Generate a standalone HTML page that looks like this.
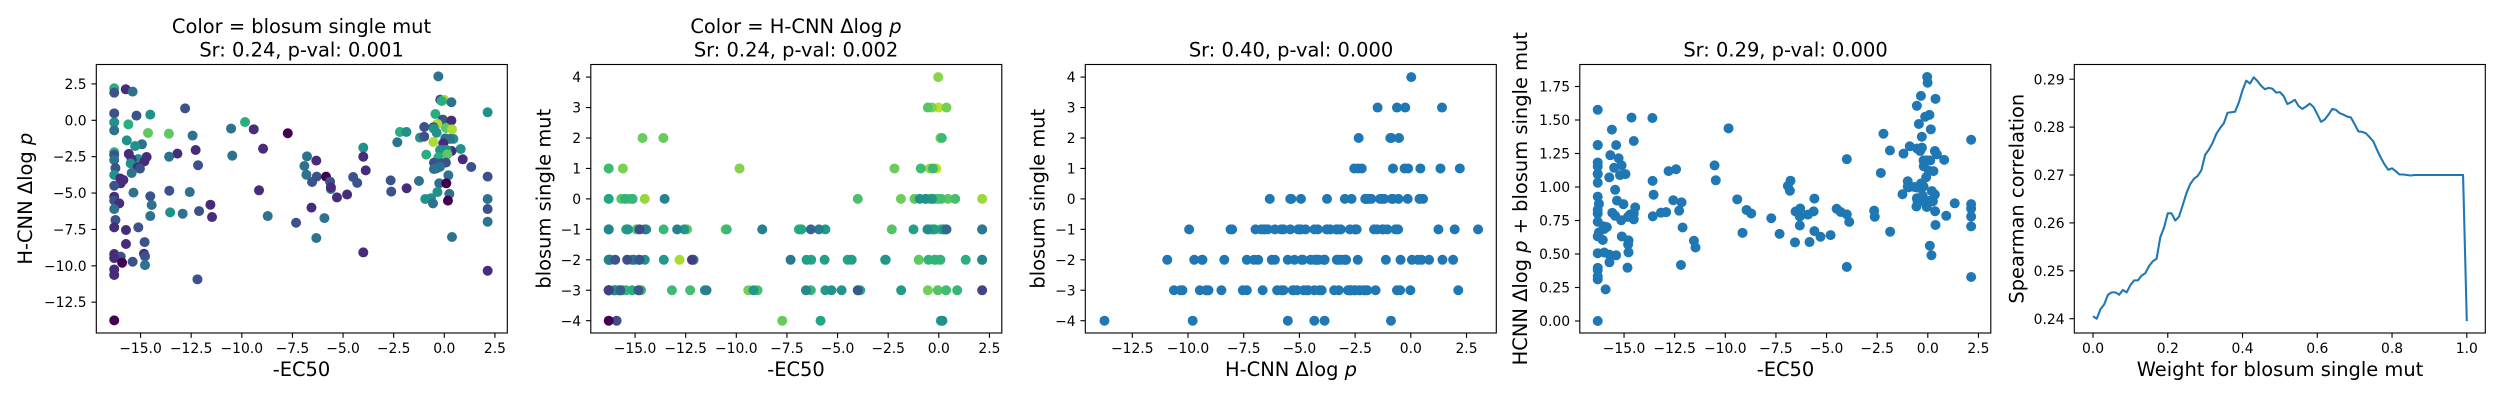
<!DOCTYPE html>
<html>
<head>
<meta charset="utf-8">
<title>Scatter panels</title>
<style>
html,body{margin:0;padding:0;background:#fff;width:2500px;height:400px;overflow:hidden}
svg{display:block}
text{font-family:"DejaVu Sans","Liberation Sans",sans-serif;fill:#000}
.title,.axlabel{font-size:19.44px}
.tick{font-size:13.89px}
.it{font-style:italic}
</style>
</head>
<body>
<svg id="fig" width="2500" height="400" viewBox="0 0 2500 400" xmlns="http://www.w3.org/2000/svg">
<rect width="2500" height="400" fill="#fff"/>
<g id="p1"></g>
<g id="p2"></g>
<g id="p3"></g>
<g id="p4"></g>
<g id="p5"></g>

<text class="title" x="301.5" y="33" text-anchor="middle">Color = blosum single mut</text>
<text class="title" x="301.5" y="56.5" text-anchor="middle">Sr: 0.24, p-val: 0.001</text>
<text class="axlabel" x="301.5" y="376" text-anchor="middle">-EC50</text>
<text class="axlabel" transform="translate(32,198.7) rotate(-90)" text-anchor="middle">H-CNN Δlog<tspan class="it"> p</tspan></text>

<text class="title" x="796" y="33" text-anchor="middle">Color = H-CNN Δlog<tspan class="it"> p</tspan></text>
<text class="title" x="796" y="56.5" text-anchor="middle">Sr: 0.24, p-val: 0.002</text>
<text class="axlabel" x="796" y="376" text-anchor="middle">-EC50</text>
<text class="axlabel" transform="translate(550.7,198.7) rotate(-90)" text-anchor="middle">blosum single mut</text>

<text class="title" x="1291" y="56.5" text-anchor="middle">Sr: 0.40, p-val: 0.000</text>
<text class="axlabel" x="1291" y="376" text-anchor="middle">H-CNN Δlog<tspan class="it"> p</tspan></text>
<text class="axlabel" transform="translate(1044.5,198.7) rotate(-90)" text-anchor="middle">blosum single mut</text>

<text class="title" x="1785.5" y="56.5" text-anchor="middle">Sr: 0.29, p-val: 0.000</text>
<text class="axlabel" x="1785.5" y="376" text-anchor="middle">-EC50</text>
<text class="axlabel" transform="translate(1527,198.7) rotate(-90)" text-anchor="middle">HCNN Δlog<tspan class="it"> p</tspan> + blosum single mut</text>

<text class="axlabel" x="2280" y="376" text-anchor="middle">Weight for blosum single mut</text>
<text class="axlabel" transform="translate(2023.5,198.7) rotate(-90)" text-anchor="middle">Spearman correlation</text>
</svg>

<script>
// Measured per-variant values, same order in all three arrays
const ec50 = [
-16.3,-15.73,-15.39,-16.3,-16.3,-15.2,-14.52,-12.8,-16.3,-15.6,
-16.3,-14.63,-13.6,-12.43,-10.53,-9.84,-9.41,-7.73,-15.68,-14.93,
-15.27,-8.95,-12.28,-16.3,-16.3,-15.58,-13.18,-13.59,-10.47,-6.78,
-14.7,-15.12,-15.44,-16.3,-6.32,-14.81,-15.49,-12.16,-6.91,-15.14,
-15.03,-16.24,-15.44,-16.3,-6.81,-6.3,-5.84,-16.0,-15.85,-15.98,
-6.53,-5.64,-5.6,-16.3,-9.15,-13.58,-12.57,-15.35,-16.3,-14.52,
-16.3,-16.05,-14.45,-11.55,-6.56,-16.3,-14.52,-13.54,-12.92,-12.11,
-11.47,-8.72,-5.92,-16.24,-7.32,-16.3,-15.11,-15.72,-6.32,-14.8,
-15.72,-16.3,-14.83,-14.78,-15.98,-16.3,-15.39,-15.91,-14.78,-16.3,
-16.3,-12.19,-16.3,-0.295,-0.2,-0.01,-0.13,0.35,-0.44,2.14,
-0.03,-0.08,0.35,-0.34,-0.99,-0.54,0.08,0.38,-0.53,-0.38,
-2.19,-1.87,-1.2,-0.99,0.05,0.45,0.28,-2.32,-0.54,-0.05,
-4.0,0.81,0.36,-0.05,-0.21,0.12,0.15,-0.89,-0.29,-4.0,
0.91,0.08,-0.51,-0.21,-3.88,1.33,-0.51,-0.21,-0.38,2.14,
0.2,-2.65,-1.25,-0.25,0.1,-2.62,-1.86,-0.34,0.25,0.18,
-0.94,-0.66,-0.56,2.14,2.14,2.14,0.38,-4.0,2.14,-4.5,
-4.3,-5.6,-5.3,-4.8
];
const logp = [
2.2,2.13,1.97,1.9,0.48,0.32,0.39,0.82,-0.14,-0.28,
-0.69,-0.87,-0.92,-1.05,-0.57,-0.12,-0.62,-0.89,-1.38,-1.65,
-1.77,-1.95,-2.04,-2.2,-2.38,-2.31,-2.29,-2.5,-2.43,-2.48,
-2.52,-2.66,-2.68,-2.73,-2.77,-2.82,-2.96,-3.09,-3.14,-3.23,
-3.32,-3.28,-3.62,-3.76,-3.74,-3.87,-3.87,-4.0,-4.1,-4.33,
-4.24,-4.22,-4.72,-4.5,-4.81,-4.84,-4.93,-4.97,-5.25,-5.22,
-5.52,-5.71,-5.82,-5.8,-6.0,-6.1,-6.58,-6.33,-6.42,-6.24,
-6.65,-6.58,-6.72,-6.85,-7.04,-7.36,-7.36,-7.54,-8.09,-8.37,
-8.5,-9.19,-9.17,-9.35,-9.37,-9.47,-9.72,-9.79,-9.95,-10.25,
-10.63,-10.93,-13.75,3.02,1.42,1.4,1.33,1.24,0.43,0.55,
0.02,0.05,-0.02,-0.25,-0.46,-0.48,-0.53,-0.62,-0.55,-0.85,
-0.8,-0.8,-1.19,-1.12,-1.24,-1.28,-1.28,-1.51,-1.49,-1.58,
-1.88,-1.97,-2.11,-2.04,-2.04,-2.04,-2.34,-2.36,-2.54,-2.5,
-2.68,-2.91,-2.91,-2.96,-3.44,-3.21,-3.35,-3.19,-3.3,-3.87,
-3.78,-4.13,-4.17,-4.33,-4.33,-4.9,-4.67,-4.93,-5.06,-5.52,
-5.41,-5.36,-5.71,-5.41,-6.1,-6.97,-8.02,-9.08,-10.34,-3.9,
-4.3,-4.6,-5.3,-5.1
];
const blosum = [
1,-3,-1,-2,-2,-2,0,-2,0,1,
-1,2,2,-1,-1,1,-3,-4,0,-1,
0,-3,-3,1,-2,-3,-3,-1,-1,-1,
-3,0,-3,-1,-3,-3,0,-2,-1,-3,
-2,-2,-1,0,-1,-2,-4,-3,-3,-3,
-2,-2,-1,-2,-3,-2,-1,-1,-3,-2,
-2,-3,-1,-3,-3,-1,-1,0,-1,-2,
-3,-1,-1,-2,-2,-3,-2,-3,-1,-2,
-3,-3,-3,-2,-2,-3,-2,-4,-1,-3,
-3,-2,-4,-1,-2,3,1,-1,1,0,
4,-2,-3,3,-2,-3,2,3,0,0,
1,0,0,-2,-1,0,-1,-1,3,-3,
0,0,-3,0,0,0,2,1,1,-3,
-3,-2,-2,-2,-3,-2,-1,-1,-1,-2,
-1,-2,-1,-1,-4,-2,-3,0,-1,-4,
0,0,-1,-1,-2,-1,-1,-3,-3,-2,
-2,-3,-3,-3
];

// Weight sweep (panel 5)
const weights = [
0,0.01,0.02,0.03,0.04,0.05,0.06,0.07,0.08,0.09,
0.1,0.11,0.12,0.13,0.14,0.15,0.16,0.17,0.18,0.19,
0.2,0.21,0.22,0.23,0.24,0.25,0.26,0.27,0.28,0.29,
0.3,0.31,0.32,0.33,0.34,0.35,0.36,0.37,0.38,0.39,
0.4,0.41,0.42,0.43,0.44,0.45,0.46,0.47,0.48,0.49,
0.5,0.51,0.52,0.53,0.54,0.55,0.56,0.57,0.58,0.59,
0.6,0.61,0.62,0.63,0.64,0.65,0.66,0.67,0.68,0.69,
0.7,0.71,0.72,0.73,0.74,0.75,0.76,0.77,0.78,0.79,
0.8,0.81,0.82,0.83,0.84,0.85,0.86,0.87,0.88,0.89,
0.9,0.91,0.92,0.93,0.94,0.95,0.96,0.97,0.98,0.99,1
];
const spearman = [
0.2405,0.2400,0.2420,0.2430,0.2450,0.2455,0.2455,0.2450,0.2460,0.2455,
0.2470,0.2480,0.2480,0.2490,0.2495,0.2510,0.2520,0.2525,0.2570,0.2590,
0.2620,0.2620,0.2605,0.2613,0.2637,0.2662,0.2681,0.2692,0.2698,0.2710,
0.2742,0.2753,0.2767,0.2786,0.2798,0.2808,0.2830,0.2831,0.2832,0.2851,
0.2877,0.2897,0.2891,0.2904,0.2896,0.2886,0.2879,0.2882,0.2880,0.2872,
0.2873,0.2865,0.2848,0.2852,0.2857,0.2844,0.2838,0.2843,0.2849,0.2842,
0.2827,0.2811,0.2816,0.2826,0.2838,0.2836,0.2829,0.2826,0.2822,0.2820,
0.2806,0.2791,0.2790,0.2787,0.2779,0.2770,0.2752,0.2736,0.2722,0.2711,
0.2714,0.2708,0.2701,0.2701,0.2700,0.2699,0.2700,0.2700,0.2700,0.2700,
0.2700,0.2700,0.2700,0.2700,0.2700,0.2700,0.2700,0.2700,0.2700,0.2700,0.2395
];

// Tick values
const ec50Ticks = [-15,-12.5,-10,-7.5,-5,-2.5,0,2.5];
const logpXTicks = [-12.5,-10,-7.5,-5,-2.5,0,2.5];
const logpYTicks = [2.5,0,-2.5,-5,-7.5,-10,-12.5];
const blosumTicks = [4,3,2,1,0,-1,-2,-3,-4];
const combinedTicks = [0,0.25,0.5,0.75,1,1.25,1.5,1.75];
const weightTicks = [0,0.2,0.4,0.6,0.8,1];
const spearmanTicks = [0.24,0.25,0.26,0.27,0.28,0.29];

const viridis = ['#440154','#482475','#414487','#355f8d','#2a788e','#21918c','#22a884','#44bf70','#7ad151','#bddf26','#fde725'];
function hex(c){return [1,3,5].map(i=>parseInt(c.substr(i,2),16));}
function viridisColor(t){
  t=Math.max(0,Math.min(1,t));
  const p=t*10,i=Math.min(9,Math.floor(p)),f=p-i,a=hex(viridis[i]),b=hex(viridis[i+1]);
  return 'rgb('+a.map((v,k)=>Math.round(v+(b[k]-v)*f)).join(',')+')';
}
const NS='http://www.w3.org/2000/svg';
const logpMin=Math.min.apply(null,logp), logpMax=Math.max.apply(null,logp);
const blosumMin=Math.min.apply(null,blosum), blosumMax=Math.max.apply(null,blosum);
const combined=logp.map((v,i)=>(v-logpMin)/(logpMax-logpMin)+(blosum[i]-blosumMin)/(blosumMax-blosumMin));

const TOP=64.5, BOTTOM=333, WIDTH=411;
const lefts=[96.3,590.8,1085.3,1579.8,2074.3];

function lin(v0,p0,pxPerUnit){return v=>p0+(v-v0)*pxPerUnit;}
function fmt(v,d){return v.toFixed(d).replace('-','\u2212');}

function drawAxes(g,left,xs,ys,xTicks,yTicks,xDec,yDec){
  const box=document.createElementNS(NS,'rect');
  
  
  box.setAttribute('x',left);box.setAttribute('y',TOP);
  box.setAttribute('width',WIDTH);box.setAttribute('height',BOTTOM-TOP);
  box.setAttribute('fill','none');box.setAttribute('stroke','#000');box.setAttribute('stroke-width','1.11');
  g.appendChild(box);
  xTicks.forEach(v=>{
    const l=document.createElementNS(NS,'line');
    
    
    l.setAttribute('x1',xs(v));l.setAttribute('x2',xs(v));l.setAttribute('y1',BOTTOM);l.setAttribute('y2',BOTTOM+4.86);
    l.setAttribute('stroke','#000');l.setAttribute('stroke-width','1.11');
    g.appendChild(l);
    const t=document.createElementNS(NS,'text');
    
    
    t.setAttribute('class','tick');t.setAttribute('x',xs(v));t.setAttribute('y',352.8);t.setAttribute('text-anchor','middle');
    t.textContent=fmt(v,xDec);
    g.appendChild(t);
  });
  yTicks.forEach(v=>{
    const l=document.createElementNS(NS,'line');
    
    
    l.setAttribute('x1',left-4.86);l.setAttribute('x2',left);l.setAttribute('y1',ys(v));l.setAttribute('y2',ys(v));
    l.setAttribute('stroke','#000');l.setAttribute('stroke-width','1.11');
    g.appendChild(l);
    const t=document.createElementNS(NS,'text');
    
    
    t.setAttribute('class','tick');t.setAttribute('x',left-9.72);t.setAttribute('y',ys(v)+5.05);t.setAttribute('text-anchor','end');
    t.textContent=fmt(v,yDec);
    g.appendChild(t);
  });
}
function drawPoints(g,xv,yv,xs,ys,colorOf){
  xv.forEach((v,i)=>{
    const c=document.createElementNS(NS,'circle');
    
    
    c.setAttribute('cx',xs(v));c.setAttribute('cy',ys(yv[i]));c.setAttribute('r','5');
    c.setAttribute('fill',colorOf(i));
    g.appendChild(c);
  });
}

const xEc=off=>lin(0,444.3+off,20.25);
const yLogp=lin(0,120.3,-14.55);
const yBlosum=lin(0,198.9,-30.45);
const xLogp=lin(0,1410.8,22.28);
const yCombined=lin(0,321,-134);
const xWeight=lin(0,2093,373.8);
const ySpearman=lin(0.27,175,-4790);
const BLUE='#1f77b4';

const p1=document.getElementById('p1');
drawPoints(p1,ec50,logp,xEc(0),yLogp,i=>viridisColor((blosum[i]-blosumMin)/(blosumMax-blosumMin)));
drawAxes(p1,lefts[0],xEc(0),yLogp,ec50Ticks,logpYTicks,1,1);

const p2=document.getElementById('p2');
drawPoints(p2,ec50,blosum,xEc(494.5),yBlosum,i=>viridisColor((logp[i]-logpMin)/(logpMax-logpMin)));
drawAxes(p2,lefts[1],xEc(494.5),yBlosum,ec50Ticks,blosumTicks,1,0);

const p3=document.getElementById('p3');
drawPoints(p3,logp,blosum,xLogp,yBlosum,()=>BLUE);
drawAxes(p3,lefts[2],xLogp,yBlosum,logpXTicks,blosumTicks,1,0);

const p4=document.getElementById('p4');
drawPoints(p4,ec50,combined,xEc(1483.5),yCombined,()=>BLUE);
drawAxes(p4,lefts[3],xEc(1483.5),yCombined,ec50Ticks,combinedTicks,1,2);

const p5=document.getElementById('p5');
const curve=document.createElementNS(NS,'polyline');


curve.setAttribute('points',weights.map((w,i)=>xWeight(w).toFixed(2)+','+ySpearman(spearman[i]).toFixed(2)).join(' '));
curve.setAttribute('fill','none');curve.setAttribute('stroke',BLUE);curve.setAttribute('stroke-width','2.08');curve.setAttribute('stroke-linejoin','round');
p5.appendChild(curve);
drawAxes(p5,lefts[4],xWeight,ySpearman,weightTicks,spearmanTicks,1,2);
</script>
</body>
</html>
